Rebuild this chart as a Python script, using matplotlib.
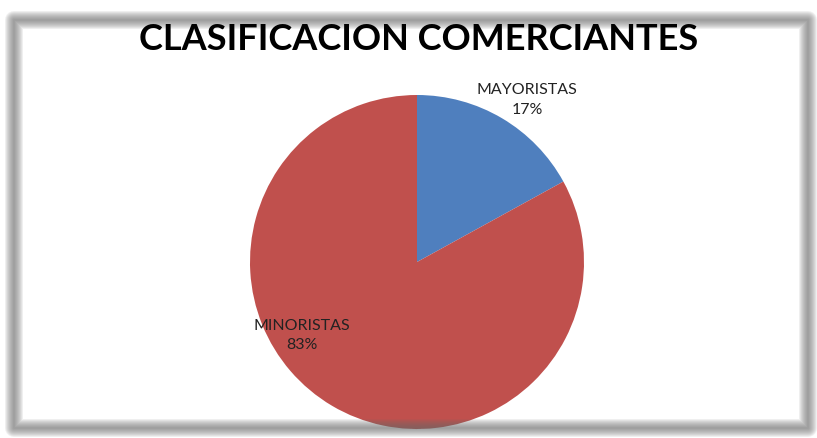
import matplotlib.pyplot as plt
from matplotlib.patches import Rectangle

# datos del grafico
categorias = ['MAYORISTAS', 'MINORISTAS']
porcentajes = [17, 83]
colores = ['#4F7FBE', '#C0504D']
titulo = 'CLASIFICACION COMERCIANTES'

plt.rcParams['font.family'] = ['Lato', 'DejaVu Sans']

W, H = 817, 438
fig = plt.figure(figsize=(W / 100, H / 100), dpi=100)
fig.patch.set_facecolor('white')

# marco gris difuminado alrededor del grafico
x0, y0, x1, y1 = 14, 20, 808, 428
for lw in range(18, 1, -2):
    fig.patches.append(Rectangle((x0 / W, 1 - y1 / H), (x1 - x0) / W, (y1 - y0) / H,
                                 transform=fig.transFigure, fill=False,
                                 edgecolor='#6a6a6a', linewidth=lw * 0.72, alpha=0.1,
                                 joinstyle='round'))

fig.text(419 / W, 1 - 39 / H, titulo, ha='center', va='center',
         fontsize=26, fontweight='bold', color='black')

# pastel: centro (417, 262), radio 167 px
cx, cy, r = 417, 262, 167
ax = fig.add_axes([(cx - r) / W, 1 - (cy + r) / H, 2 * r / W, 2 * r / H])
ax.pie(porcentajes, colors=colores, startangle=90, counterclock=False,
       radius=1.0, wedgeprops={'linewidth': 0})
ax.set_xlim(-1, 1)
ax.set_ylim(-1, 1)
ax.set_aspect('equal')
ax.axis('off')

pos_etiquetas = [(0.66, 0.97), (-0.69, -0.44)]
for nombre, pct, (tx, ty) in zip(categorias, porcentajes, pos_etiquetas):
    ax.text(tx, ty, f'{nombre}\n{pct}%', ha='center', va='center',
            fontsize=11.5, color='#222222', linespacing=1.5, clip_on=False)

fig.savefig('out.png', dpi=100, facecolor='white')
